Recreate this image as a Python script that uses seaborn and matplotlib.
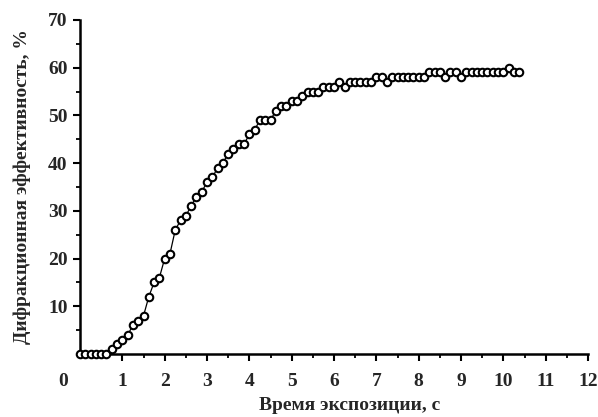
import matplotlib

matplotlib.use("Agg")

import matplotlib.pyplot as plt
import pandas as pd
import seaborn as sns
from matplotlib.ticker import MultipleLocator


OUTPUT_FILE = "out.png"

# time, s (sampled every 0.125 s)
TIME_S = [
    0.000, 0.125, 0.250, 0.375, 0.500, 0.625, 0.750, 0.875, 1.000, 1.125,
    1.250, 1.375, 1.500, 1.625, 1.750, 1.875, 2.000, 2.125, 2.250, 2.375,
    2.500, 2.625, 2.750, 2.875, 3.000, 3.125, 3.250, 3.375, 3.500, 3.625,
    3.750, 3.875, 4.000, 4.125, 4.250, 4.375, 4.500, 4.625, 4.750, 4.875,
    5.000, 5.125, 5.250, 5.375, 5.500, 5.625, 5.750, 5.875, 6.000, 6.125,
    6.250, 6.375, 6.500, 6.625, 6.750, 6.875, 7.000, 7.125, 7.250, 7.375,
    7.500, 7.625, 7.750, 7.875, 8.000, 8.125, 8.250, 8.375, 8.500, 8.625,
    8.750, 8.875, 9.000, 9.125, 9.250, 9.375, 9.500, 9.625, 9.750, 9.875,
    10.000, 10.125, 10.250, 10.375,
]

# diffraction efficiency, %
EFFICIENCY = [
    0, 0, 0, 0, 0, 0, 1, 2, 3, 4,
    6, 7, 8, 12, 15, 16, 20, 21, 26, 28,
    29, 31, 33, 34, 36, 37, 39, 40, 42, 43,
    44, 44, 46, 47, 49, 49, 49, 51, 52, 52,
    53, 53, 54, 55, 55, 55, 56, 56, 56, 57,
    56, 57, 57, 57, 57, 57, 58, 58, 57, 58,
    58, 58, 58, 58, 58, 58, 59, 59, 59, 58,
    59, 59, 58, 59, 59, 59, 59, 59, 59, 59,
    59, 60, 59, 59,
]

X_TICKS = [1, 2, 3, 4, 5, 6, 7, 8, 9, 10, 11, 12]
Y_TICKS = [10, 20, 30, 40, 50, 60, 70]


def plot_curve(df: pd.DataFrame) -> None:
    sns.set_style("ticks")
    plt.rcParams["font.family"] = ["Liberation Serif", "DejaVu Serif"]

    fig = plt.figure(figsize=(5.98, 4.17), dpi=100)
    ax = fig.add_axes([0.1338, 0.1511, 0.8495, 0.8010])

    sns.lineplot(
        data=df,
        x="t",
        y="eff",
        ax=ax,
        color="black",
        linewidth=0.9,
        marker="o",
        markersize=5.4,
        markerfacecolor="white",
        markeredgecolor="black",
        markeredgewidth=1.5,
        clip_on=False,
        zorder=3,
    )

    ax.set_xlim(0, 12)
    ax.set_ylim(0, 70)
    ax.set_xticks(X_TICKS)
    ax.set_yticks(Y_TICKS)
    ax.set_xticklabels([str(v) for v in X_TICKS], fontweight="bold")
    ax.set_yticklabels([str(v) for v in Y_TICKS], fontweight="bold")
    ax.xaxis.set_minor_locator(MultipleLocator(0.5))
    ax.yaxis.set_minor_locator(MultipleLocator(5))

    ax.tick_params(which="major", direction="out", length=5, width=1.5,
                   labelsize=14, color="black")
    ax.tick_params(axis="x", which="major", pad=9)
    ax.tick_params(axis="y", which="major", pad=4)
    ax.tick_params(which="minor", direction="out", length=3, width=1.3,
                   color="black")

    for side in ("top", "right"):
        ax.spines[side].set_visible(False)
    for side in ("left", "bottom"):
        ax.spines[side].set_linewidth(1.8)
        ax.spines[side].set_color("black")

    # shared origin label
    ax.annotate("0", xy=(0, 0), xycoords="axes fraction",
                xytext=(-12, -14), textcoords="offset points",
                ha="center", va="top", fontsize=14, fontweight="bold")

    ax.set_xlabel("Время экспозиции, с", fontsize=14, fontweight="bold")
    ax.xaxis.set_label_coords(0.53, -0.128)
    ax.set_ylabel("Дифракционная эффективность, %", fontsize=14,
                  fontweight="bold", labelpad=12)

    fig.savefig(OUTPUT_FILE, dpi=100)
    plt.close(fig)


def main() -> None:
    df = pd.DataFrame({"t": TIME_S, "eff": EFFICIENCY})
    plot_curve(df)


if __name__ == "__main__":
    main()
